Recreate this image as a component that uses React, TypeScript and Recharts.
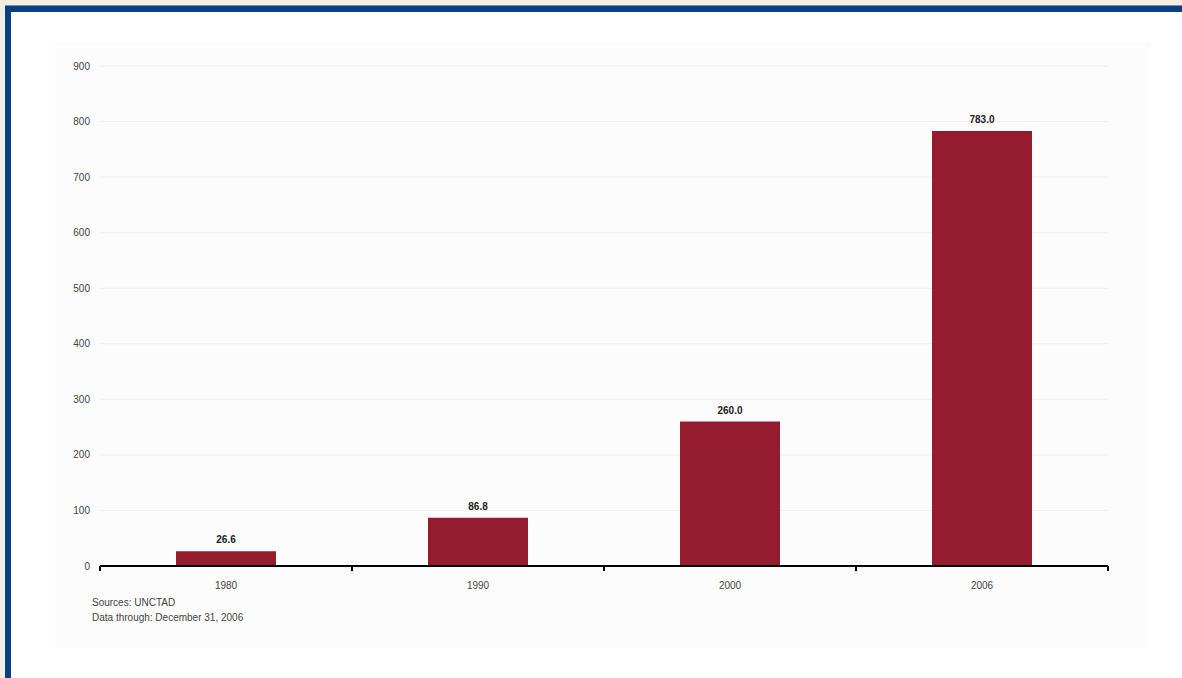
import { BarChart, Bar, XAxis, YAxis, CartesianGrid, LabelList } from "recharts";

const years = ["1980", "1990", "2000", "2006"];
const values = [26.6, 86.8, 260.0, 783.0];
const yTicks = [0, 100, 200, 300, 400, 500, 600, 700, 800, 900];
const sourceLines = ["Sources: UNCTAD", "Data through: December 31, 2006"];

const data = years.map((year, i) => ({ year, value: values[i] }));

const W = 1182;
const H = 678;
const PLOT_LEFT = 100;
const PLOT_RIGHT = 1108;
const AXIS_Y = 566;
const BAND = (PLOT_RIGHT - PLOT_LEFT) / years.length;
const FONT = "'Liberation Sans', Arial, Helvetica, sans-serif";

function YearTick(props: any) {
  const { x, payload, index } = props;
  const left = x - BAND / 2;
  return (
    <g>
      <line x1={left} x2={left} y1={AXIS_Y} y2={AXIS_Y + 5} stroke="#000" strokeWidth={2} />
      {index === years.length - 1 && (
        <line x1={left + BAND} x2={left + BAND} y1={AXIS_Y} y2={AXIS_Y + 5} stroke="#000" strokeWidth={2} />
      )}
      <text x={x} y={AXIS_Y + 23} textAnchor="middle" fontSize={10} fill="#444" fontFamily={FONT}>
        {payload.value}
      </text>
    </g>
  );
}

export default function App() {
  return (
    <div
      style={{
        position: "absolute",
        left: 0,
        top: 0,
        width: W,
        height: H,
        background: "#f4ede1",
        overflow: "hidden",
        fontFamily: FONT,
      }}
    >
      <div
        style={{
          position: "absolute",
          left: 5,
          top: 6,
          right: 0,
          bottom: 0,
          background: "#fff",
          borderTop: "6px solid #0b4080",
          borderLeft: "6px solid #0b4080",
          boxShadow: "0 -1px 0 #6f8fb8",
        }}
      />
      <div
        style={{
          position: "absolute",
          left: 55,
          top: 42,
          width: 1095,
          height: 606,
          background: "#fcfcfc",
        }}
      />
      <div style={{ position: "absolute", left: 0, top: 0 }}>
        <BarChart
          width={W}
          height={H}
          data={data}
          margin={{ top: 66, right: W - PLOT_RIGHT, bottom: H - AXIS_Y - 30, left: 40 }}
        >
          <CartesianGrid horizontal vertical={false} stroke="#f0f0f0" strokeWidth={1} />
          <YAxis
            width={60}
            domain={[0, 900]}
            ticks={yTicks}
            interval={0}
            axisLine={false}
            tickLine={false}
            tickSize={0}
            tickMargin={10}
            tick={{ fontSize: 10, fill: "#444", fontFamily: FONT }}
          />
          <XAxis
            dataKey="year"
            height={30}
            axisLine={{ stroke: "#000", strokeWidth: 2 }}
            tickLine={false}
            interval={0}
            tick={<YearTick />}
          />
          <Bar dataKey="value" fill="#951b2f" barSize={100} isAnimationActive={false}>
            <LabelList
              dataKey="value"
              position="top"
              offset={8}
              formatter={(v: any) => Number(v).toFixed(1)}
              style={{ fontSize: 10, fontWeight: "bold", fill: "#222", fontFamily: FONT }}
            />
          </Bar>
        </BarChart>
      </div>
      <div
        style={{
          position: "absolute",
          left: 92,
          top: 595,
          fontSize: 10,
          lineHeight: "15px",
          color: "#444",
        }}
      >
        {sourceLines.map((l) => (
          <div key={l}>{l}</div>
        ))}
      </div>
    </div>
  );
}
